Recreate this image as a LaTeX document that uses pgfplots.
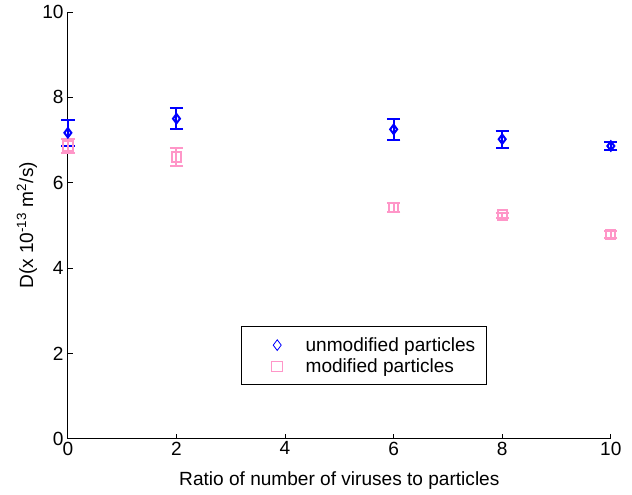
\documentclass[border=0pt]{standalone}
\usepackage{pgfplots}
\pgfplotsset{compat=1.18}
\usepackage{fontspec}
\setmainfont{Liberation Sans}
\definecolor{mblue}{RGB}{0,0,255}
\definecolor{mpink}{RGB}{255,150,200}
\begin{document}
\begin{tikzpicture}
\begin{axis}[
  scale only axis,
  width=407pt, height=320pt,
  xmin=0, xmax=10, ymin=0, ymax=10,
  xtick={0,2,4,6,8,10}, ytick={0,2,4,6,8,10},
  axis x line*=bottom, axis y line*=left,
  axis line style={-, line width=0.6pt},
  tick align=inside,
  major tick length=4pt,
  tick style={black, line width=0.6pt},
  /pgf/number format/assume math mode=true,
  ticklabel style={font=\fontsize{14.3}{17}\selectfont},
  xticklabel style={inner sep=2pt},
  yticklabel style={inner sep=3pt},
  label style={font=\fontsize{14.3}{17}\selectfont},
  xlabel={Ratio of number of viruses to particles},
  ylabel={D(x 10\textsuperscript{-13} m\textsuperscript{2}/s)},
  x label style={at={(axis description cs:0.5,-0.098)}, anchor=center},
  y label style={at={(axis description cs:-0.0755,0.5)}, anchor=center},
  clip=false,
  legend style={at={(0.319,0.264)}, anchor=north west, draw=black, line width=0.6pt,
    font=\fontsize{14.3}{17}\selectfont, row sep=0pt, inner xsep=6pt, inner ysep=6pt,
    cells={anchor=west}},
  legend cell align=left,
  legend image post style={line width=0.6pt, mark size=4pt},
  legend image code/.code={\draw[#1] plot coordinates {(20.5pt,0pt)}; \path (0pt,0pt) (39.5pt,0pt);},
]
\addplot[only marks, mark=diamond, mark size=3.5pt, color=mblue, line width=1.5pt,
  error bars/.cd, y dir=both, y explicit, error bar style={line width=1.5pt, color=mblue},
  error mark options={rotate=90, mark size=5pt, line width=1.5pt, color=mblue}]
  coordinates {
  (0,7.17) +- (0,0.3)
  (2,7.50) +- (0,0.24)
  (6,7.25) +- (0,0.24)
  (8,7.02) +- (0,0.2)
  (10,6.86) +- (0,0.1)
};
\addlegendentry{unmodified particles}
\addplot[only marks, mark=square, mark size=3.5pt, color=mpink, line width=1.5pt,
  error bars/.cd, y dir=both, y explicit, error bar style={line width=1.5pt, color=mpink},
  error mark options={rotate=90, mark size=5pt, line width=1.5pt, color=mpink}]
  coordinates {
  (0,6.86) +- (0,0.17)
  (2,6.60) +- (0,0.22)
  (6,5.42) +- (0,0.1)
  (8,5.24) +- (0,0.06)
  (10,4.78) +- (0,0.08)
};
\addlegendentry{modified particles}
\path (axis description cs:-0.125,-0.126) rectangle (axis description cs:1.039,1.028);
\end{axis}
\end{tikzpicture}
\end{document}
